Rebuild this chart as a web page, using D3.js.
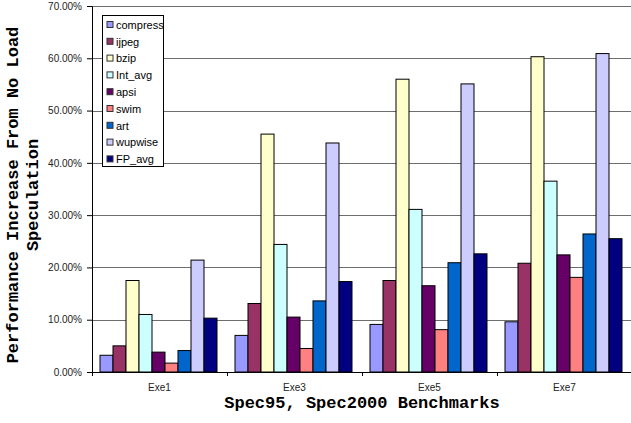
<!DOCTYPE html>
<head>
  <meta charset="utf-8">
  <script src="https://d3js.org/d3.v7.min.js"></script>
  <style>
    body { margin: 0; background: #fff; }
    .tick text { font-family: Arial, "Liberation Sans", sans-serif; font-size: 10px; fill: #222; }
    .grid line { stroke: #6e6e6e; stroke-width: 1; }
    .title { font-family: "Courier New", "Liberation Mono", monospace; font-weight: bold; font-size: 17px; fill: #000; }
    .legend text { font-family: Arial, "Liberation Sans", sans-serif; font-size: 11px; fill: #000; }
  </style>
</head>
<body>
<div id="chart"></div>
<script>
// chart values (percent)
var groups = ["Exe1", "Exe3", "Exe5", "Exe7"];
var series = ["compress", "ijpeg", "bzip", "Int_avg", "apsi", "swim", "art", "wupwise", "FP_avg"];
var colors = ["#9999ff", "#993366", "#ffffcc", "#ccffff", "#660066", "#ff8080", "#0066cc", "#ccccff", "#000080"];
var compress = [3.2, 7.0, 9.1, 9.6];
var ijpeg    = [5.0, 13.1, 17.5, 20.8];
var bzip     = [17.5, 45.5, 56.0, 60.3];
var intAvg   = [11.0, 24.4, 31.1, 36.5];
var apsi     = [3.8, 10.5, 16.5, 22.4];
var swim     = [1.7, 4.5, 8.1, 18.1];
var art      = [4.1, 13.6, 20.9, 26.4];
var wupwise  = [21.4, 43.8, 55.1, 60.9];
var fpAvg    = [10.3, 17.3, 22.6, 25.5];
var yTicks = [0, 10, 20, 30, 40, 50, 60, 70];

var values = [compress, ijpeg, bzip, intAvg, apsi, swim, art, wupwise, fpAvg];

var margin = {top: 6, right: -1, bottom: 51, left: 92},
    width = 631 - margin.left - margin.right,
    height = 423 - margin.top - margin.bottom;

var svg = d3.select("#chart").append("svg")
    .attr("width", 631)
    .attr("height", 423)
  .append("g")
    .attr("transform", "translate(" + margin.left + "," + margin.top + ")");

var x0 = d3.scaleBand().domain(groups).range([0, width]).paddingInner(0).paddingOuter(0);
var x1 = d3.scaleBand().domain(series).range([8, x0.bandwidth() - 10]).padding(0);
var y = d3.scaleLinear().domain([0, 70]).range([height, 0]);

// gridlines
svg.append("g").attr("class", "grid")
  .selectAll("line").data(yTicks.slice(1)).enter().append("line")
    .attr("x1", 0).attr("x2", width)
    .attr("y1", function(d) { return Math.round(y(d)) + 0.5; })
    .attr("y2", function(d) { return Math.round(y(d)) + 0.5; });

// bars
var table = [];
groups.forEach(function(g, gi) {
  series.forEach(function(s, si) {
    table.push({group: g, series: s, value: values[si][gi], color: colors[si]});
  });
});

svg.append("g").selectAll("rect").data(table).enter().append("rect")
    .attr("x", function(d) { return x0(d.group) + x1(d.series); })
    .attr("width", x1.bandwidth())
    .attr("y", function(d) { return y(d.value); })
    .attr("height", function(d) { return height - y(d.value); })
    .attr("fill", function(d) { return d.color; })
    .attr("stroke", "#000")
    .attr("stroke-width", 1);

// y axis
var yAxis = svg.append("g")
    .call(d3.axisLeft(y).tickValues(yTicks).tickSize(5).tickPadding(5)
      .tickFormat(function(d) { return d3.format(".2f")(d) + "%"; }));
yAxis.select(".domain").attr("stroke", "#000");

// x axis
var xAxis = svg.append("g")
    .attr("transform", "translate(0," + height + ")")
    .call(d3.axisBottom(x0).tickSize(0).tickPadding(12));
xAxis.select(".domain").attr("stroke", "#000");
xAxis.selectAll(".sep").data(groups).enter().append("line")
    .attr("class", "sep")
    .attr("x1", function(d) { return x0(d) + 0.5; })
    .attr("x2", function(d) { return x0(d) + 0.5; })
    .attr("y1", 0).attr("y2", 4)
    .attr("stroke", "#000");

// axis titles
svg.append("text")
    .attr("class", "title")
    .attr("x", width / 2)
    .attr("y", height + 36)
    .attr("text-anchor", "middle")
    .text("Spec95, Spec2000 Benchmarks");

var yTitle = svg.append("text")
    .attr("class", "title")
    .attr("transform", "translate(" + (-margin.left + 18) + "," + (height / 2 + 6) + ") rotate(-90)")
    .attr("text-anchor", "middle");
yTitle.append("tspan").attr("x", 0).attr("dy", 0).text("Performance Increase From No Load");
yTitle.append("tspan").attr("x", 0).attr("dy", 20).text("Speculation");

// legend
var legend = svg.append("g")
    .attr("class", "legend")
    .attr("transform", "translate(10,9)");
legend.append("rect")
    .attr("x", 0.5).attr("y", 0.5)
    .attr("width", 61).attr("height", 151)
    .attr("fill", "#fff").attr("stroke", "#000");
var items = legend.selectAll(".item").data(series).enter().append("g")
    .attr("class", "item")
    .attr("transform", function(d, i) { return "translate(5," + (10 + i * 16.8) + ")"; });
items.append("rect")
    .attr("x", 0).attr("y", -3.5).attr("width", 6).attr("height", 6)
    .attr("fill", function(d, i) { return colors[i]; })
    .attr("stroke", "#333").attr("stroke-width", 1);
items.append("text")
    .attr("x", 9).attr("y", 0).attr("dy", "0.35em")
    .text(function(d) { return d; });
</script>
</body>
